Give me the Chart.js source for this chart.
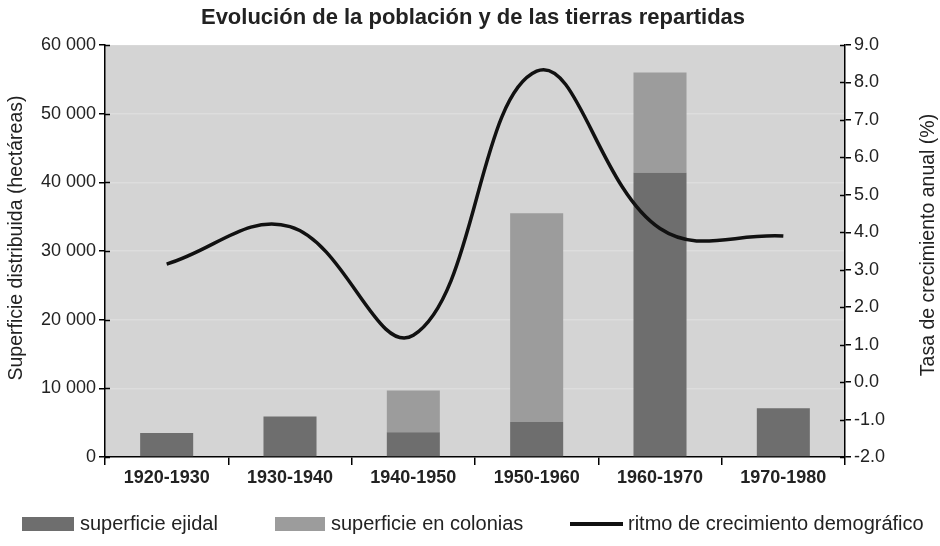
<!DOCTYPE html>
<html><head><meta charset="utf-8">
<script src="https://cdn.jsdelivr.net/npm/chart.js@4/dist/chart.umd.min.js"></script>
<style>html,body{margin:0;padding:0;background:#fff}#wrap{width:940px;height:546px}</style>
</head><body><div id="wrap"><canvas id="c" width="940" height="546"></canvas></div>
<script>
const categories = ['1920-1930','1930-1940','1940-1950','1950-1960','1960-1970','1970-1980'];
const superficieEjidal = [3500, 5900, 3600, 5100, 41400, 7100];
const superficieColonias = [0, 0, 6100, 30400, 14600, 0];
const ritmoCrecimiento = [3.15, 4.15, 1.25, 8.3, 4.1, 3.9];
const leftTicks = [0, 10000, 20000, 30000, 40000, 50000, 60000];
const rightTicks = [-2, -1, 0, 1, 2, 3, 4, 5, 6, 7, 8, 9];

const FONT = '"Liberation Sans", Arial, sans-serif';
const C_EJ = '#6e6e6e', C_COL = '#9c9c9c', C_BG = '#d4d4d4';

const deco = {
  id: 'deco',
  beforeDraw(chart) {
    const a = chart.chartArea, ctx = chart.ctx;
    ctx.save(); ctx.fillStyle = C_BG;
    ctx.fillRect(a.left, a.top, a.right - a.left, a.bottom - a.top);
    ctx.restore();
  },
  afterDraw(chart) {
    const ctx = chart.ctx, a = chart.chartArea;
    ctx.save();
    ctx.strokeStyle = '#000'; ctx.lineWidth = 1.5;
    const y = chart.scales.y, y1 = chart.scales.y1;
    y.ticks.forEach((t, i) => { const p = Math.round(y.getPixelForTick(i)) + 0.5; ctx.beginPath(); ctx.moveTo(a.left, p); ctx.lineTo(a.left + 5, p); ctx.stroke(); });
    y1.ticks.forEach((t, i) => { const p = Math.round(y1.getPixelForTick(i)) + 0.5; ctx.beginPath(); ctx.moveTo(a.right - 5, p); ctx.lineTo(a.right, p); ctx.stroke(); });
    ctx.fillStyle = '#222';
    ctx.font = 'bold 22px ' + FONT; ctx.textAlign = 'center'; ctx.textBaseline = 'middle';
    ctx.fillText('Evolución de la población y de las tierras repartidas', 473, 18);
    ctx.font = '19.5px ' + FONT;
    ctx.save(); ctx.translate(17, 238); ctx.rotate(-Math.PI / 2);
    ctx.fillText('Superficie distribuida (hectáreas)', 0, 0); ctx.restore();
    ctx.save(); ctx.translate(929, 245); ctx.rotate(-Math.PI / 2);
    ctx.fillText('Tasa de crecimiento anual (%)', 0, 0); ctx.restore();
    const ds = chart.data.datasets;
    ctx.textAlign = 'left'; ctx.textBaseline = 'middle'; ctx.font = '20px ' + FONT;
    const ly = 524;
    ctx.fillStyle = ds[0].backgroundColor; ctx.fillRect(22, ly - 7, 52, 14);
    ctx.fillStyle = '#222'; ctx.fillText(ds[0].label, 80, ly);
    ctx.fillStyle = ds[1].backgroundColor; ctx.fillRect(275, ly - 7, 50, 14);
    ctx.fillStyle = '#222'; ctx.fillText(ds[1].label, 331, ly);
    ctx.strokeStyle = '#111'; ctx.lineWidth = 4; ctx.beginPath(); ctx.moveTo(570, ly); ctx.lineTo(623, ly); ctx.stroke();
    ctx.fillStyle = '#222'; ctx.fillText(ds[2].label, 628, ly);
    ctx.restore();
  }
};

new Chart(document.getElementById('c'), {
  data: {
    labels: categories,
    datasets: [
      { type: 'bar', label: 'superficie ejidal', data: superficieEjidal, backgroundColor: C_EJ, yAxisID: 'y', order: 2, stack: 's' },
      { type: 'bar', label: 'superficie en colonias', data: superficieColonias, backgroundColor: C_COL, yAxisID: 'y', order: 2, stack: 's' },
      { type: 'line', label: 'ritmo de crecimiento demográfico', data: ritmoCrecimiento, borderColor: '#111', borderWidth: 3.5, tension: 0.4, pointRadius: 0, yAxisID: 'y1', order: 0, fill: false }
    ]
  },
  options: {
    responsive: false, animation: false,
    layout: { padding: { top: 45, bottom: 56, left: 0, right: 0 } },
    datasets: { bar: { barPercentage: 0.43, categoryPercentage: 1 } },
    plugins: { legend: { display: false }, title: { display: false }, tooltip: { enabled: false } },
    scales: {
      x: {
        stacked: true, offset: true,
        grid: { offset: true, drawOnChartArea: false, tickColor: '#000', tickLength: 8, lineWidth: 1.5 },
        border: { color: '#000', width: 1.5 },
        ticks: { color: '#222', font: { family: FONT, size: 18, weight: 'bold' }, padding: 2 },
        afterFit(s) { s.height = 33; }
      },
      y: {
        stacked: true, position: 'left', min: 0, max: 60000,
        afterBuildTicks(s) { s.ticks = leftTicks.map(v => ({ value: v })); },
        grid: { color: 'rgba(255,255,255,0.22)', tickColor: '#000', tickLength: 6, lineWidth: 1.5 },
        border: { color: '#000', width: 1.5 },
        ticks: { color: '#222', font: { family: FONT, size: 18 }, padding: 3,
          callback: v => v === 0 ? '0' : String(v).replace(/\B(?=(\d{3})+(?!\d))/g, ' ') },
        afterFit(s) { s.width = 105; }
      },
      y1: {
        position: 'right', min: -2, max: 9,
        afterBuildTicks(s) { s.ticks = rightTicks.map(v => ({ value: v })); },
        grid: { drawOnChartArea: false, tickColor: '#000', tickLength: 6, lineWidth: 1.5 },
        border: { color: '#000', width: 1.5 },
        ticks: { color: '#222', font: { family: FONT, size: 18 }, padding: 3, callback: v => v.toFixed(1) },
        afterFit(s) { s.width = 95; }
      }
    }
  },
  plugins: [deco]
});
</script></body></html>
